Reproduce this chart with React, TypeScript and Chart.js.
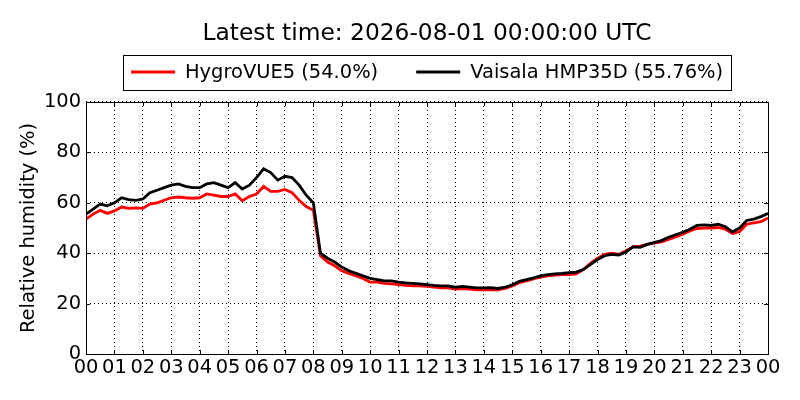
import { useEffect, useRef } from "react";
import { Chart, registerables } from "chart.js";
import type { ChartConfiguration, Plugin } from "chart.js";

Chart.register(...registerables);

// 15-minute samples over the day (hours since 00:00)
const times = Array.from({ length: 97 }, (_, i) => i / 4);

const hourLabels = [
  "00", "01", "02", "03", "04", "05", "06", "07", "08", "09", "10", "11",
  "12", "13", "14", "15", "16", "17", "18", "19", "20", "21", "22", "23", "00",
];

const yTicks = [0, 20, 40, 60, 80, 100];

const hygroVUE5 = [
  53.5, 55.5, 57, 55.8,
  56.8, 58.3, 57.8, 58,
  57.8, 59.5, 60, 61,
  62, 62.3, 62, 61.8,
  62, 63.5, 63, 62.5,
  62.5, 63.5, 60.8, 62.5,
  63.5, 66.5, 64.5, 64.5,
  65.3, 64, 61, 58.5,
  57, 39, 36.5, 35,
  33, 32, 31, 30,
  28.5, 28.5, 28, 27.8,
  27.5, 27.2, 27, 27,
  26.8, 26.5, 26.2, 26.2,
  25.8, 26, 25.8, 25.5,
  25.5, 25.5, 25.5, 26,
  27, 28.3, 29, 29.8,
  30.5, 31, 31.3, 31.5,
  31.5, 31.8, 33.5, 36,
  38, 39.5, 40, 39.5,
  41, 42.5, 42.8, 43.5,
  44, 44.5, 45.5, 46.5,
  47.5, 48.8, 49.8, 50,
  50, 50.2, 49.5, 47.8,
  48.5, 51.5, 52, 52.5,
  54,
];

const vaisala = [
  55.5, 57.5, 59.5, 58.8,
  60, 62, 61.3, 61,
  61.5, 64, 65, 66,
  67, 67.5, 66.5, 66,
  66, 67.5, 68, 67,
  66, 68, 65.5, 67,
  70, 73.5, 72, 69,
  70.5, 70, 67, 63,
  60, 40, 38, 36.5,
  34.5, 33, 32, 31,
  30, 29.5, 29, 29,
  28.5, 28.2, 28, 27.8,
  27.5, 27.2, 27, 27,
  26.5, 26.8, 26.5, 26.2,
  26.2, 26.3, 26, 26.5,
  27.5, 28.8, 29.5, 30.2,
  31, 31.5, 31.8, 32,
  32.3, 32.5, 33.5, 35.5,
  37.5, 39, 39.5, 39.3,
  40.5, 42.5, 42.3, 43.5,
  44.3, 45, 46.3, 47.3,
  48.3, 49.5, 51, 51.2,
  51, 51.5, 50.5, 48.5,
  50, 53, 53.5, 54.5,
  55.8,
];

const FONT = "'DejaVu Sans', sans-serif";
const BASE = 19.44;

// axes frame + inward ticks (matplotlib classic look)
const framePlugin: Plugin<"line"> = {
  id: "frame",
  afterDraw(chart) {
    const { ctx, chartArea: a, scales } = chart;
    ctx.save();
    ctx.strokeStyle = "#000";
    ctx.lineWidth = 1;
    ctx.beginPath();
    for (let i = 0; i < hourLabels.length; i++) {
      const px = Math.round(scales.x.getPixelForValue(i)) + 0.5;
      ctx.moveTo(px, a.bottom);
      ctx.lineTo(px, a.bottom - 4);
      ctx.moveTo(px, a.top);
      ctx.lineTo(px, a.top + 4);
    }
    for (const v of yTicks) {
      const py = Math.round(scales.y.getPixelForValue(v)) + 0.5;
      ctx.moveTo(a.left, py);
      ctx.lineTo(a.left + 4, py);
      ctx.moveTo(a.right, py);
      ctx.lineTo(a.right - 4, py);
    }
    ctx.stroke();
    ctx.strokeRect(
      Math.round(a.left) + 0.5,
      Math.round(a.top) + 0.5,
      Math.round(a.right) - Math.round(a.left),
      Math.round(a.bottom) - Math.round(a.top)
    );
    ctx.restore();
  },
};

// boxed legend centred over the plot
const boxLegendPlugin: Plugin<"line"> = {
  id: "boxLegend",
  afterDraw(chart) {
    const { ctx, chartArea: a } = chart;
    const ds = chart.data.datasets;
    ctx.save();
    ctx.font = `${BASE}px ${FONT}`;
    const pad = 8, sample = 44, gap = 10, between = 38;
    const widths = ds.map((d) => ctx.measureText(String(d.label)).width);
    let total = pad * 2;
    widths.forEach((w, i) => {
      total += sample + gap + w + (i > 0 ? between : 0);
    });
    const cx = (a.left + a.right) / 2;
    const left = Math.round(cx - total / 2);
    const top = 55, bottom = 90;
    ctx.strokeStyle = "#000";
    ctx.lineWidth = 1;
    ctx.strokeRect(left + 0.5, top + 0.5, Math.round(total), bottom - top);
    const cy = (top + bottom) / 2 + 0.5;
    let x = left + pad;
    ds.forEach((d, i) => {
      ctx.strokeStyle = String(d.borderColor);
      ctx.lineWidth = 3;
      ctx.beginPath();
      ctx.moveTo(x, cy - 1);
      ctx.lineTo(x + sample, cy - 1);
      ctx.stroke();
      x += sample + gap;
      ctx.fillStyle = "#000";
      ctx.textBaseline = "middle";
      ctx.textAlign = "left";
      ctx.fillText(String(d.label), x, cy);
      x += widths[i] + between;
    });
    ctx.restore();
  },
};

export default function App() {
  const canvasRef = useRef<HTMLCanvasElement>(null);

  useEffect(() => {
    document.body.style.margin = "0";
    if (!canvasRef.current) return;

    const config: ChartConfiguration<"line"> = {
      type: "line",
      data: {
        datasets: [
          {
            label: "HygroVUE5 (54.0%)",
            data: times.map((t, i) => ({ x: t, y: hygroVUE5[i] })),
            borderColor: "#ff0000",
            backgroundColor: "#ff0000",
            borderWidth: 2.8,
            pointRadius: 0,
            tension: 0,
            order: 1,
          },
          {
            label: "Vaisala HMP35D (55.76%)",
            data: times.map((t, i) => ({ x: t, y: vaisala[i] })),
            borderColor: "#000000",
            backgroundColor: "#000000",
            borderWidth: 2.8,
            pointRadius: 0,
            tension: 0,
            order: 0,
          },
        ],
      },
      options: {
        responsive: false,
        animation: false,
        layout: { padding: { left: 8, right: 32, top: 0, bottom: 0 } },
        scales: {
          x: {
            type: "linear",
            min: 0,
            max: 24,
            grid: { color: "#000", lineWidth: 1, drawTicks: false },
            border: { display: false, dash: [1, 3] },
            afterFit: (scale) => {
              scale.height = 46;
            },
            ticks: {
              stepSize: 1,
              autoSkip: false,
              maxRotation: 0,
              padding: 2.3,
              color: "#000",
              font: { family: FONT, size: BASE },
              callback: (v) => hourLabels[Number(v)] ?? "",
            },
          },
          y: {
            min: 0,
            max: 100,
            grid: { color: "#000", lineWidth: 1, drawTicks: false },
            border: { display: false, dash: [1, 3] },
            afterFit: (scale) => {
              scale.width = 78;
            },
            ticks: {
              stepSize: 20,
              padding: 5,
              color: "#000",
              font: { family: FONT, size: BASE },
            },
            title: {
              display: true,
              text: "Relative humidity (%)",
              color: "#000",
              font: { family: FONT, size: BASE, lineHeight: 1.2 },
              padding: { top: 9.3, bottom: 3.3 },
            },
          },
        },
        plugins: {
          legend: { display: false },
          tooltip: { enabled: false },
          title: {
            display: true,
            fullSize: false,
            text: "Latest time: 2026-08-01 00:00:00 UTC",
            color: "#000",
            font: { family: FONT, size: 23.33, weight: "normal", lineHeight: 1.2 },
            padding: { top: 20, bottom: 54 },
          },
        },
      },
      plugins: [framePlugin, boxLegendPlugin],
    };

    const chart = new Chart(canvasRef.current, config);
    return () => chart.destroy();
  }, []);

  return (
    <div style={{ width: 800, height: 400, background: "#fff" }}>
      <canvas ref={canvasRef} width={800} height={400} />
    </div>
  );
}
